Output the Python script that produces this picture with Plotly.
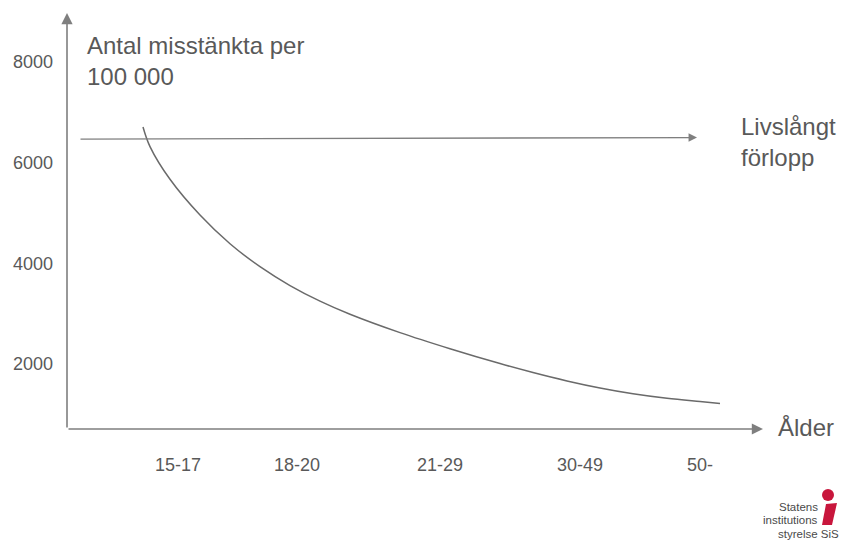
import plotly.graph_objects as go

# ---- data ----
age_groups = ["15-17", "18-20", "21-29", "30-49", "50-"]
age_group_pos = [111, 230, 373, 513, 633]          # position of each age group on the age scale
y_ticks = [2000, 4000, 6000, 8000]

curve_x = [76, 83, 103, 133, 163, 193, 223, 253, 283, 333, 383, 433, 466, 500, 533, 566, 600, 633, 653]
curve_y = [6710, 6320, 5670, 4960, 4390, 3935, 3560, 3250, 2990, 2625, 2305, 2010, 1832, 1665, 1525,
           1410, 1320, 1255, 1218]

lifelong_x = [12, 630]
lifelong_y = [6470, 6500]

# ---- layout constants ----
W, H = 843, 544
FONT = "Liberation Sans, Arial, sans-serif"
TXT = "#595959"
LINE = "#7f7f7f"
X_RANGE = [0, 696]
Y_RANGE = [711, 8973]


def px(x):
    return x / W


def py(y):
    return 1 - y / H


fig = go.Figure()
fig.add_trace(go.Scatter(x=curve_x, y=curve_y, mode="lines",
                         line=dict(color="#6a6a6a", width=1.5, shape="spline", smoothing=1.0),
                         hoverinfo="skip", showlegend=False))

annotations = []
# y axis arrow
annotations.append(dict(x=X_RANGE[0], y=Y_RANGE[1], ax=X_RANGE[0], ay=Y_RANGE[0],
                        xref="x", yref="y", axref="x", ayref="y", text="", showarrow=True,
                        arrowhead=2, arrowsize=1.4, arrowwidth=1.6, arrowcolor=LINE))
# x axis arrow
annotations.append(dict(x=X_RANGE[1], y=Y_RANGE[0], ax=X_RANGE[0], ay=Y_RANGE[0],
                        xref="x", yref="y", axref="x", ayref="y", text="", showarrow=True,
                        arrowhead=2, arrowsize=1.4, arrowwidth=1.6, arrowcolor=LINE))
# lifelong arrow
annotations.append(dict(x=lifelong_x[1], y=lifelong_y[1], ax=lifelong_x[0], ay=lifelong_y[0],
                        xref="x", yref="y", axref="x", ayref="y", text="", showarrow=True,
                        arrowhead=2, arrowsize=1.3, arrowwidth=1.3, arrowcolor=LINE))

def label(text, x, y, size, xanchor="left", yanchor="middle", align="left", color=TXT):
    return dict(text=text, x=px(x), y=py(y), xref="paper", yref="paper", showarrow=False,
                xanchor=xanchor, yanchor=yanchor, align=align,
                font=dict(family=FONT, size=size, color=color))

annotations.append(label("Antal misstänkta per<br>100 000", 85, 30, 24, yanchor="top"))
annotations.append(label("Livslångt<br>förlopp", 739, 142, 24))
annotations.append(label("Ålder", 776, 427, 24))
annotations.append(label("Statens", 820, 507, 11.5, xanchor="right", color="#4a4a4a"))
annotations.append(label("institutions", 820, 520, 11.5, xanchor="right", color="#4a4a4a"))
annotations.append(label("styrelse SiS", 841, 534, 11.5, xanchor="right", color="#4a4a4a"))

RED = "#c8163c"
shapes = [
    dict(type="circle", xref="paper", yref="paper", x0=px(822), x1=px(834), y0=py(501), y1=py(489),
         fillcolor=RED, line=dict(width=0)),
    dict(type="path", xref="paper", yref="paper",
         path=(f"M {px(826)},{py(504)} L {px(837)},{py(503)} L {px(832)},{py(525)} "
               f"L {px(822)},{py(525)} Z"),
         fillcolor=RED, line=dict(width=0)),
]

fig.update_layout(
    width=W, height=H,
    margin=dict(l=0, r=0, t=0, b=0),
    paper_bgcolor="white", plot_bgcolor="white",
    showlegend=False,
    annotations=annotations,
    shapes=shapes,
    xaxis=dict(domain=[px(67), px(763)], range=X_RANGE, tickmode="array",
               tickvals=age_group_pos, ticktext=age_groups, showgrid=False, zeroline=False,
               showline=False, ticks="", ticklabelstandoff=23,
               tickfont=dict(family=FONT, size=18, color=TXT), fixedrange=True),
    yaxis=dict(domain=[py(429), py(13)], range=Y_RANGE, tickmode="array",
               tickvals=y_ticks, ticktext=[str(v) for v in y_ticks], showgrid=False,
               zeroline=False, showline=False, ticks="", ticklabelstandoff=13,
               tickfont=dict(family=FONT, size=18, color=TXT), fixedrange=True),
)

fig.write_html("out.html")
